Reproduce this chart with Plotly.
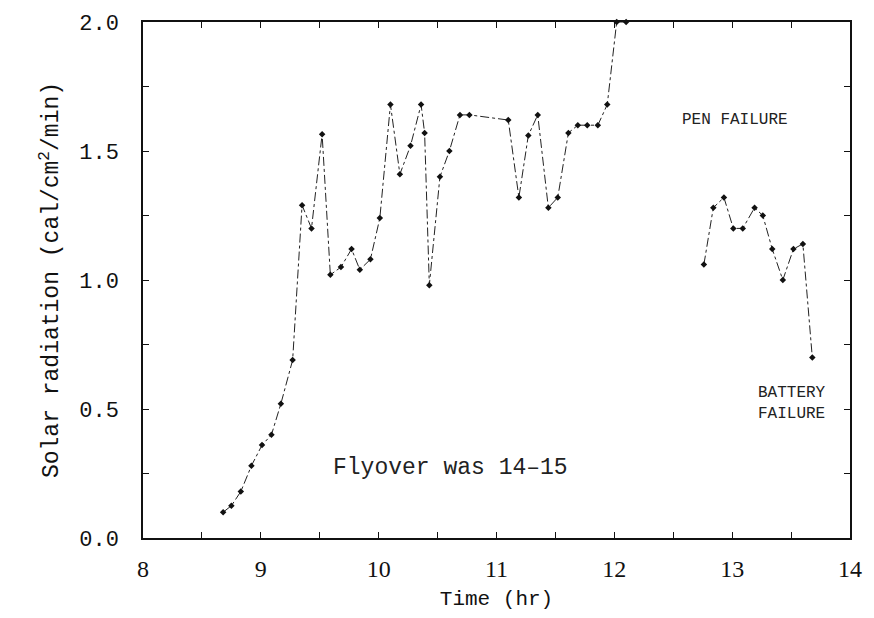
import plotly.graph_objects as go

# Morning/midday series (before pen failure)
time_a = [8.68, 8.75, 8.83, 8.92, 9.01, 9.09, 9.17, 9.27, 9.35, 9.43, 9.52, 9.59, 9.68, 9.77,
          9.84, 9.93, 10.01, 10.10, 10.18, 10.27, 10.36, 10.39, 10.43, 10.52, 10.60, 10.69,
          10.77, 11.10, 11.19, 11.27, 11.35, 11.44, 11.52, 11.61, 11.69, 11.77, 11.86, 11.94,
          12.02, 12.10]
rad_a = [0.10, 0.125, 0.18, 0.28, 0.36, 0.40, 0.52, 0.69, 1.29, 1.20, 1.565, 1.02, 1.05, 1.12,
         1.04, 1.08, 1.24, 1.68, 1.41, 1.52, 1.68, 1.57, 0.98, 1.40, 1.50, 1.64,
         1.64, 1.62, 1.32, 1.56, 1.64, 1.28, 1.32, 1.57, 1.60, 1.60, 1.60, 1.68,
         2.0, 2.0]

# Afternoon series (after pen failure, until battery failure)
time_b = [12.76, 12.84, 12.93, 13.01, 13.09, 13.19, 13.26, 13.34, 13.43, 13.52, 13.60, 13.68]
rad_b = [1.06, 1.28, 1.32, 1.20, 1.20, 1.28, 1.25, 1.12, 1.00, 1.12, 1.14, 0.70]

x_ticks = [8, 9, 10, 11, 12, 13, 14]
y_ticks = [0.0, 0.5, 1.0, 1.5, 2.0]
y_tick_text = ["0.0", "0.5", "1.0", "1.5", "2.0"]

mono = "Liberation Mono"

fig = go.Figure()
for xs, ys in ((time_a, rad_a), (time_b, rad_b)):
    fig.add_trace(go.Scatter(
        x=xs, y=ys, mode="lines+markers",
        line=dict(color="#222222", width=1, dash="dashdot"),
        marker=dict(color="#111111", size=5, symbol="diamond"),
        showlegend=False, cliponaxis=False,
    ))

fig.add_annotation(x=12.56, y=1.62, text="PEN FAILURE", showarrow=False,
                   xanchor="left", yanchor="middle",
                   font=dict(family=mono, size=16, color="#222222"))
fig.add_annotation(x=13.81, y=0.52, text="BATTERY<br>FAILURE", showarrow=False,
                   xanchor="right", yanchor="middle", align="left",
                   font=dict(family=mono, size=16, color="#222222"))
fig.add_annotation(x=10.61, y=0.273, text="Flyover was 14\u201315", showarrow=False,
                   xanchor="center", yanchor="middle",
                   font=dict(family=mono, size=23, color="#222222"))

axis_common = dict(showgrid=False, zeroline=False, showline=True, linecolor="#111111",
                   linewidth=1.5, mirror="allticks", ticks="inside", tickcolor="#111111",
                   ticklen=6, tickwidth=1.2)

fig.update_xaxes(range=[8, 14], tickvals=x_ticks, ticktext=[str(v) for v in x_ticks],
                 tickfont=dict(family="Liberation Serif", size=24, color="#111111"),
                 ticklabelstandoff=8,
                 title=dict(text="Time (hr)", font=dict(family=mono, size=21, color="#111111"),
                            standoff=10),
                 minor=dict(dtick=0.5, ticks="inside", ticklen=6, tickcolor="#111111"),
                 **axis_common)
fig.update_yaxes(range=[0, 2], tickvals=y_ticks, ticktext=y_tick_text,
                 tickfont=dict(family=mono, size=22, color="#111111"),
                 ticklabelstandoff=18,
                 title=dict(text="Solar radiation (cal/cm<sup>2</sup>/min)",
                            font=dict(family=mono, size=23, color="#111111"), standoff=14),
                 minor=dict(dtick=0.25, ticks="inside", ticklen=6, tickcolor="#111111"),
                 **axis_common)

fig.update_layout(width=874, height=618, paper_bgcolor="white", plot_bgcolor="white",
                  margin=dict(l=143, r=17, t=12, b=79))

fig.write_html("out.html")
